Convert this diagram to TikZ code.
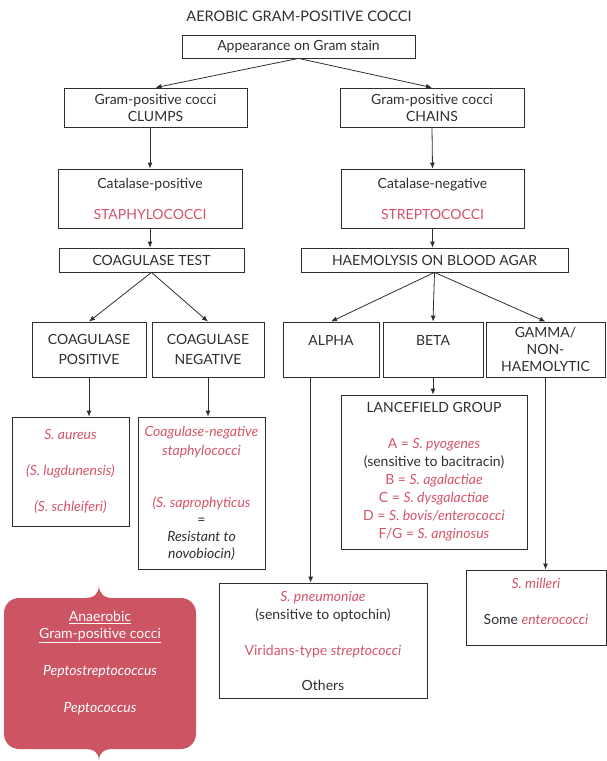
\documentclass[tikz,border=0pt]{standalone}
\usepackage{fontspec}
\setmainfont{Lato}
\usepackage{xcolor}
\usetikzlibrary{arrows.meta,calc}

\definecolor{inkgray}{HTML}{2E2E2E}
\definecolor{pinktext}{HTML}{D4546A}
\definecolor{anaerofill}{HTML}{CC5463}

\newcommand{\pk}[1]{{\color{pinktext}#1}}
\newcommand{\pki}[1]{{\color{pinktext}\itshape #1}}

\begin{document}
\begin{tikzpicture}[
  x=1pt, y=-1pt,
  every node/.style={font=\fontsize{14}{18}\selectfont, text=inkgray},
  box/.style  ={draw=inkgray, line width=0.8pt, align=center,
                inner sep=0pt},
  arr/.style  ={-{Latex[length=6pt,width=5pt]}, line width=0.8pt, inkgray}
]
\useasboundingbox (0,0) rectangle (607,761);

%% ---- Title ---------------------------------------------------------
\node[font=\fontsize{14.5}{18}\selectfont] (title) at (299,16)
      {AEROBIC GRAM-POSITIVE COCCI};

%% ---- Gram stain ----------------------------------------------------
\node[box, minimum width=233, minimum height=23] (appear) at (298.5,46.5)
      {Appearance on Gram stain};
\node[box, minimum width=183, minimum height=39] (clumps) at (155.5,107.5)
      {Gram-positive cocci\\[-1pt]CLUMPS};
\node[box, minimum width=184, minimum height=39] (chains) at (432,107.5)
      {Gram-positive cocci\\[-1pt]CHAINS};

%% ---- Catalase ------------------------------------------------------
\node[box, minimum width=184, minimum height=59] (catpos) at (150,198.5)
      {Catalase-positive\\[13pt]\pk{STAPHYLOCOCCI}};
\node[box, minimum width=183, minimum height=59] (catneg) at (432.5,198.5)
      {Catalase-negative\\[13pt]\pk{STREPTOCOCCI}};

%% ---- Tests ---------------------------------------------------------
\node[box, minimum width=185, minimum height=24] (coagtest) at (151.5,260)
      {COAGULASE TEST};
\node[box, minimum width=267, minimum height=24] (haemo) at (434.5,260)
      {HAEMOLYSIS ON BLOOD AGAR};

%% ---- Second level --------------------------------------------------
\node[box, minimum width=114, minimum height=55] (coagpos) at (89,349.5)
      {COAGULASE\\[2pt]POSITIVE};
\node[box, minimum width=112, minimum height=55] (coagneg) at (208,349.5)
      {COAGULASE\\[2pt]NEGATIVE};
\node[box, minimum width=96, minimum height=55] (alpha) at (331,349.5)
      {ALPHA\\~};
\node[box, minimum width=100, minimum height=55] (beta) at (433,349.5)
      {BETA\\~};
\node[box, minimum width=119, minimum height=55] (gamma) at (545.5,349.5)
      {GAMMA/\\[-1pt]NON-\\[-1pt]HAEMOLYTIC};

%% ---- Species -------------------------------------------------------
\node[box, minimum width=117, minimum height=109] (aureus) at (70.5,471.5)
      {\pki{S. aureus}\\[18pt]\pki{(S. lugdunensis)}\\[18pt]\pki{(S. schleiferi)}};
\node[box, minimum width=127, minimum height=152] (cons) at (201.5,493)
      {\pki{Coagulase-negative}\\[1pt]\pki{staphylococci}\\[34pt]
       \pki{(S. saprophyticus}\\[-1pt]=\\[-1pt]\textit{Resistant to}\\[-1pt]
       \textit{novobiocin)}};
\node[box, minimum width=186, minimum height=154] (lance) at (434,472)
      {LANCEFIELD GROUP\\[18pt]
       \pk{A = }\pki{S. pyogenes}\\
       (sensitive to bacitracin)\\
       \pk{B = }\pki{S. agalactiae}\\
       \pk{C = }\pki{S. dysgalactiae}\\
       \pk{D = }\pki{S. bovis/enterococci}\\
       \pk{F/G = }\pki{S. anginosus}};
\node[box, minimum width=208, minimum height=115] (pneu) at (323,640.5)
      {\pki{S. pneumoniae}\\(sensitive to optochin)\\[18pt]
       \pk{Viridans-type }\pki{streptococci}\\[17pt]Others};
\node[box, minimum width=140, minimum height=75] (milleri) at (536,607.5)
      {\pki{S. milleri}\\[18pt]Some \pki{enterococci}\\[-6pt]~};

%% ---- Anaerobic callout ---------------------------------------------
\fill[anaerofill]
  (19,598) -- (85,598) .. controls (94,598) and (99,594) .. (99,585)
  .. controls (99,594) and (104,598) .. (113,598) -- (181,598)
  .. controls (189.3,598) and (196,604.7) .. (196,613) -- (196,734)
  .. controls (196,742.3) and (189.3,749) .. (181,749) -- (113,749)
  .. controls (104,749) and (99,753) .. (99,760)
  .. controls (99,753) and (94,749) .. (85,749) -- (19,749)
  .. controls (10.7,749) and (4,742.3) .. (4,734) -- (4,613)
  .. controls (4,604.7) and (10.7,598) .. (19,598) -- cycle;
\node[align=center, text=white] (anaero) at (100,663)
      {\underline{Anaerobic}\\[-1pt]\underline{Gram-positive cocci}\\[19pt]
       \textit{Peptostreptococcus}\\[19pt]\textit{Peptococcus}};

%% ---- Connectors ----------------------------------------------------
\draw[arr] (appear.south) -- (clumps.north);
\draw[arr] (appear.south) -- (chains.north);
\draw[arr] (catpos.north |- clumps.south) -- (catpos.north);
\draw[arr] (chains.south) -- (catneg.north);
\draw[arr] (catpos.south) -- (catpos.south |- coagtest.north);
\draw[arr] (catneg.south) -- (catneg.south |- haemo.north);

\draw[arr] (coagtest.south) -- (coagpos.north);
\draw[arr] (coagtest.south) -- (coagneg.north);
\draw[arr] (haemo.south) -- (alpha.north);
\draw[arr] (haemo.south) -- (beta.north);
\draw[arr] (haemo.south) -- (gamma.north);

\draw[arr] (coagpos.south) -- (coagpos.south |- aureus.north);
\draw[arr] (coagneg.south) -- (coagneg.south |- cons.north);
\draw[arr] (beta.south) -- (beta.south |- lance.north);

% long drops to the bottom boxes
\coordinate (alphaout) at ($(alpha.south west)!0.29!(alpha.south east)$);
\draw[arr] (alphaout) -- (alphaout |- pneu.north);
\draw[arr] (gamma.south) -- (gamma.south |- milleri.north);

\end{tikzpicture}
\end{document}
